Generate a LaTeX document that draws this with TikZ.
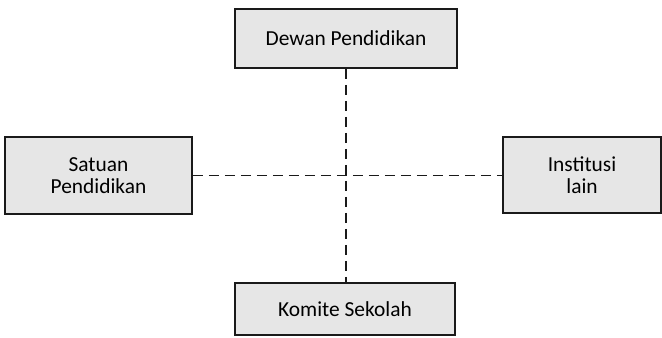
\documentclass[tikz,border=0pt]{standalone}
\usepackage{fontspec}
\setmainfont{Carlito}
\usepackage{tikz}
\usetikzlibrary{calc}
\definecolor{boxfill}{HTML}{E6E6E6}
\definecolor{boxline}{HTML}{1A1A1A}
\tikzset{
  unitbox/.style={draw=boxline, fill=boxfill, line width=0.8pt, inner sep=0pt,
    align=center, font=\fontsize{10.7}{11}\selectfont},
  dashedline/.style={draw=boxline, line width=0.9pt, dash pattern=on 5.2pt off 2.8pt},
}
\begin{document}
\begin{tikzpicture}[x=0.5pt,y=-0.5pt]
\useasboundingbox (0,0) rectangle (662,337);
% the four boxes
\node[unitbox, minimum width=111pt, minimum height=29.5pt] (dewan) at (346,38.5) {Dewan Pendidikan};
\node[unitbox, minimum width=93.5pt, minimum height=38.5pt] (satuan) at (98.5,175.5) {Satuan\\Pendidikan};
\node[unitbox, minimum width=79pt, minimum height=38pt] (institusi) at (582,175) {Institusi\\lain};
\node[unitbox, minimum width=110pt, minimum height=26pt] (komite) at (345,309) {Komite Sekolah};

% dashed connections
\draw[dashedline] (dewan.south) -- (dewan.south |- komite.north);
\draw[dashedline] (satuan.east) -- (satuan.east -| institusi.west);
\end{tikzpicture}
\end{document}
